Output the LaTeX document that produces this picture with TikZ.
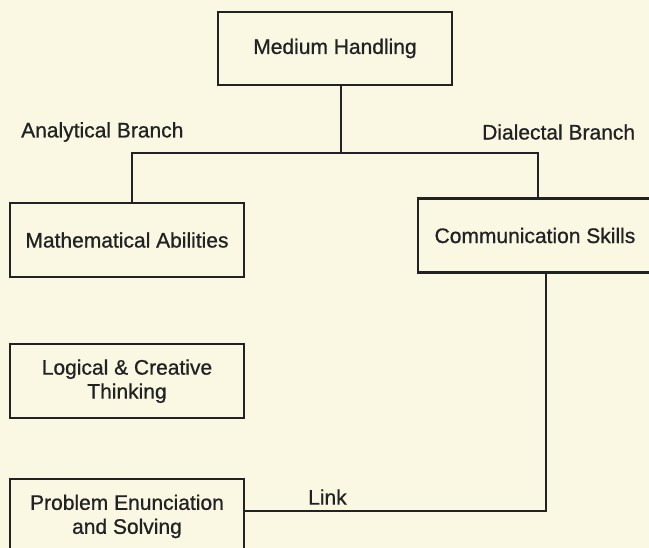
\documentclass[tikz,border=0pt]{standalone}
\usepackage{fontspec}
\setmainfont{Liberation Sans}[BoldFont={Liberation Sans}, BoldFeatures={FakeBold=0.8}]
\usetikzlibrary{positioning, calc}
\definecolor{paper}{HTML}{FAF7E3}
\definecolor{ink}{HTML}{222222}

\begin{document}
\begin{tikzpicture}[
  x=1pt, y=-1pt,
  every node/.style={font=\fontsize{21}{24}\selectfont\bfseries, text=ink},
  box/.style={
    draw=ink, line width=2.2pt, fill=paper,
    minimum width=234pt, minimum height=74pt,
    inner sep=4pt, align=center
  },
  branch/.style={anchor=west, inner sep=0pt},
  wire/.style={line width=2.2pt, draw=ink}
]
\useasboundingbox (0,0) rectangle (649,548);
\fill[paper] (0,0) rectangle (649,548);
\clip (0,0) rectangle (649,548);

% Top
\node[box, minimum height=73pt] (med) at (335,48.5) {Medium Handling};

% Branches
\node[box] (math) at (127,240) {Mathematical Abilities};
\node[box] (comm) at (535,235.5) {Communication Skills};

% Left column
\node[box, below=65pt of math] (logic) {Logical \& Creative\\Thinking};
\node[box, below=59pt of logic] (prob) {Problem Enunciation\\and Solving};

% Labels
\node[branch] (lana) at (21,132) {Analytical Branch};
\node[branch] (ldia) at (482,132) {Dialectal Branch};
\node[branch] (llink) at (308,497) {Link};

% Connectors
\coordinate (fork) at (341,153);
\coordinate (barL) at (132,153);
\coordinate (barR) at (538,153);
\coordinate (turn) at (546,511);
\draw[wire] (fork |- med.south) -- (fork);
\draw[wire] (barL |- math.north) -- (barL) -- (barR) -- (barR |- comm.north);
\draw[wire] (turn |- comm.south) -- (turn) -- (prob.east |- turn);

\end{tikzpicture}
\end{document}
